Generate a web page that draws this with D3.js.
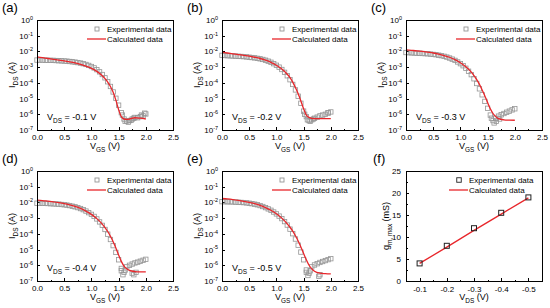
<!DOCTYPE html>
<html>
<head>
<meta charset="utf-8">
<script src="https://cdn.jsdelivr.net/npm/d3@7"></script>
<style>
body { margin: 0; background: #fff; }
svg { font-family: "Liberation Sans", Arial, sans-serif; }
</style>
</head>
<body>
<svg id="chart" width="550" height="308"></svg>
<script>
// gate voltage grid of the measured points (V)
const vgsExp = [
  0.00,0.05,0.10,0.15,0.20,0.25,0.30,0.35,0.40,0.45,
  0.50,0.55,0.60,0.65,0.70,0.75,0.80,0.85,0.90,0.95,
  1.00,1.05,1.10,1.15,1.20,1.25,1.30,1.35,1.40,1.45,
  1.50,1.55,1.60,1.65,1.70,1.75,1.80,1.85,1.90,1.95,2.00];
// gate voltage of the calculated curve (V)
const vgsCalc = [0.0,0.1,0.2,0.3,0.4,0.5,0.6,0.7,0.8,0.9,1.0,1.1,1.2,1.25,1.3,1.35,1.4,1.45,1.5,1.55,1.6,1.65,1.7,1.8,1.9,2.0];

// log10(I_DS / A), experimental
const expA = [
  -2.55,-2.55,-2.55,-2.56,-2.56,-2.57,-2.57,-2.58,-2.59,-2.60,
  -2.61,-2.62,-2.64,-2.66,-2.68,-2.71,-2.74,-2.78,-2.83,-2.89,
  -2.96,-3.05,-3.16,-3.30,-3.47,-3.68,-3.93,-4.23,-4.58,-4.98,
  -5.42,-5.90,-6.30,-6.42,-6.40,-6.30,-6.20,-6.22,-6.15,-6.10,-5.98];
const expB = [
  -2.25,-2.26,-2.27,-2.28,-2.29,-2.30,-2.31,-2.32,-2.33,-2.35,
  -2.37,-2.39,-2.41,-2.44,-2.47,-2.51,-2.56,-2.62,-2.69,-2.78,
  -2.88,-3.00,-3.15,-3.33,-3.55,-3.80,-4.10,-4.45,-4.85,-5.30,
  -5.80,-6.15,-6.40,-6.35,-6.25,-6.18,-6.10,-6.05,-6.00,-5.92,-5.85];
const expC = [
  -2.07,-2.08,-2.09,-2.10,-2.11,-2.12,-2.13,-2.14,-2.15,-2.17,
  -2.19,-2.21,-2.24,-2.27,-2.31,-2.36,-2.42,-2.49,-2.57,-2.67,
  -2.78,-2.91,-3.07,-3.26,-3.48,-3.74,-4.04,-4.38,-4.76,-5.18,
  -5.62,-6.05,-6.40,-6.25,-6.12,-6.03,-5.95,-5.87,-5.80,-5.72,-5.65];
const expD = [
  -2.05,-2.05,-2.06,-2.06,-2.07,-2.08,-2.09,-2.10,-2.11,-2.13,
  -2.15,-2.17,-2.20,-2.24,-2.28,-2.33,-2.39,-2.46,-2.55,-2.65,
  -2.76,-2.89,-3.05,-3.24,-3.46,-3.72,-4.02,-4.36,-4.75,-5.18,
  -5.65,-6.20,-6.45,-6.10,-6.00,-5.92,-5.85,-5.80,-5.74,-5.68,-5.62];
const expE = [
  -1.95,-1.95,-1.96,-1.96,-1.97,-1.98,-1.99,-2.00,-2.01,-2.03,
  -2.05,-2.08,-2.11,-2.15,-2.20,-2.26,-2.33,-2.41,-2.50,-2.61,
  -2.73,-2.87,-3.03,-3.22,-3.44,-3.70,-3.99,-4.33,-4.72,-5.16,
  -5.65,-6.30,-6.50,-6.10,-5.98,-5.90,-5.82,-5.76,-5.70,-5.64,-5.58];

// scattered measured points around the off-state dip
const dipVA = [1.57,1.62,1.68,1.73,1.78,1.92,1.98], dipA = [-6.05,-6.45,-6.50,-6.38,-6.25,-6.05,-5.93];
const dipVB = [1.52,1.57,1.62,1.68,1.95], dipB = [-6.00,-6.35,-6.45,-6.30,-5.90];
const dipVC = [1.57,1.62,1.66,1.72], dipC = [-6.25,-6.55,-6.45,-6.30];
const dipVD = [1.55,1.58,1.62,1.75,1.78,1.82], dipD = [-6.35,-6.60,-6.30,-6.50,-6.60,-6.45];
const dipVE = [1.55,1.58,1.62,1.78,1.80], dipE = [-6.45,-6.65,-6.35,-6.70,-6.60];

// log10(I_DS / A), calculated
const calcA = [-2.35,-2.40,-2.45,-2.50,-2.55,-2.60,-2.66,-2.73,-2.82,-2.94,-3.08,-3.27,-3.55,-3.73,-3.95,-4.23,-4.60,-5.10,-5.70,-6.15,-6.30,-6.32,-6.30,-6.22,-6.25,-6.30];
const calcB = [-2.05,-2.10,-2.15,-2.20,-2.25,-2.30,-2.37,-2.45,-2.56,-2.70,-2.88,-3.12,-3.45,-3.67,-3.95,-4.30,-4.70,-5.15,-5.65,-6.05,-6.20,-6.26,-6.28,-6.28,-6.28,-6.28];
const calcC = [-1.90,-1.93,-1.96,-2.00,-2.05,-2.10,-2.17,-2.26,-2.37,-2.52,-2.72,-2.98,-3.32,-3.54,-3.80,-4.10,-4.45,-4.83,-5.25,-5.65,-5.95,-6.15,-6.28,-6.35,-6.37,-6.38];
const calcD = [-1.85,-1.88,-1.92,-1.96,-2.01,-2.07,-2.15,-2.25,-2.38,-2.55,-2.76,-3.03,-3.38,-3.60,-3.85,-4.15,-4.50,-4.90,-5.35,-5.75,-6.05,-6.22,-6.33,-6.40,-6.42,-6.42];
const calcE = [-1.75,-1.78,-1.82,-1.87,-1.93,-2.00,-2.08,-2.19,-2.33,-2.50,-2.72,-3.00,-3.36,-3.58,-3.83,-4.12,-4.45,-4.83,-5.25,-5.65,-6.00,-6.22,-6.38,-6.50,-6.53,-6.55];

const vdsLabels = ["-0.1", "-0.2", "-0.3", "-0.4", "-0.5"];

// panel (f)
const vdsVals = [-0.1, -0.2, -0.3, -0.4, -0.5];
const gmExp = [4.0, 8.0, 12.0, 15.5, 19.0];
const gmCalc = [4.0, 7.7, 11.5, 15.2, 18.9];

const xTicks = [0, 0.5, 1.0, 1.5, 2.0, 2.5];
const xMinor = [0.25, 0.75, 1.25, 1.75, 2.25];
const yDecades = [-7, -6, -5, -4, -3, -2, -1, 0];

const RED = "#e8262b";
const GREY = "#959595";

let svg = d3.select("#chart");
svg.append("rect").attr("width", 550).attr("height", 308).attr("fill", "#fff");

let pw = 136, ph = 110;
let cols = [37, 222, 406];
let rows = [20, 171];

// writes [text, kind] pieces, kind "sub" or "sup" or ""
function richText(sel, parts, size) {
    let shift = 0;
    parts.forEach(function(p) {
        let t = sel.append("tspan").text(p[0]);
        let want = 0;
        if (p[1] == "sub") {
            t.attr("font-size", size * 0.72);
            want = size * 0.28;
        } else if (p[1] == "sup") {
            t.attr("font-size", size * 0.68);
            want = -size * 0.4;
        } else {
            t.attr("font-size", size);
        }
        if (want != shift) t.attr("dy", want - shift);
        shift = want;
    });
}

function frame(g) {
    g.append("rect").attr("width", pw).attr("height", ph)
        .attr("fill", "none").attr("stroke", "#000").attr("stroke-width", 1)
        .attr("shape-rendering", "crispEdges");
}

function styleAxis(a) {
    a.select(".domain").remove();
    a.selectAll("line").attr("stroke", "#000").attr("shape-rendering", "crispEdges");
    a.selectAll("text").attr("font-size", 8).attr("fill", "#000")
        .attr("font-family", "Liberation Sans, Arial, sans-serif");
}

function legend(g, rx, markStroke, markSize) {
    let lg = g.append("g").attr("transform", "translate(" + (pw - rx) + ",0)");
    lg.append("rect").attr("x", -10 - markSize / 2).attr("y", 9 - markSize / 2)
        .attr("width", markSize).attr("height", markSize)
        .attr("fill", "none").attr("stroke", markStroke).attr("stroke-width", 0.9);
    lg.append("line").attr("x1", -20).attr("x2", -1).attr("y1", 19).attr("y2", 19)
        .attr("stroke", RED).attr("stroke-width", 1.3);
    lg.append("text").attr("x", 0).attr("y", 12).attr("font-size", 8).text("Experimental data");
    lg.append("text").attr("x", 0).attr("y", 22).attr("font-size", 8).text("Calculated data");
}

function panelLabel(x, y, s) {
    svg.append("text").attr("x", x).attr("y", y).attr("font-size", 13).text(s);
}

function drawTransfer(col, row, exp, dipV, dip, calc, vds, label) {
    let x0 = cols[col], y0 = rows[row];
    let g = svg.append("g").attr("transform", "translate(" + x0 + "," + y0 + ")");

    let x = d3.scaleLinear().domain([0, 2.5]).range([0, pw]);
    let y = d3.scaleLog().domain([1e-7, 1]).range([ph, 0]);

    let ax = g.append("g").attr("transform", "translate(0," + ph + ")")
        .call(d3.axisBottom(x).tickValues(xTicks).tickSizeInner(-3).tickSizeOuter(0).tickPadding(4)
            .tickFormat(function(d) { return d.toFixed(1); }));
    styleAxis(ax);
    let axm = g.append("g").attr("transform", "translate(0," + ph + ")")
        .call(d3.axisBottom(x).tickValues(xMinor).tickSizeInner(-1.5).tickSizeOuter(0).tickFormat(""));
    styleAxis(axm);
    axm.selectAll("text").remove();

    let ay = g.append("g")
        .call(d3.axisLeft(y).tickValues(yDecades.map(function(e) { return Math.pow(10, e); }))
            .tickSizeInner(-3).tickSizeOuter(0).tickPadding(4).tickFormat(""));
    styleAxis(ay);
    ay.selectAll(".tick text").remove();
    ay.selectAll(".tick").append("text")
        .attr("x", -4).attr("dy", "0.32em").attr("text-anchor", "end")
        .attr("font-size", 8).attr("fill", "#000")
        .each(function(d) {
            let e = Math.round(Math.log10(d));
            richText(d3.select(this), [["10", ""], [String(e), "sup"]], 8);
        });

    // measured points
    let pts = vgsExp.map(function(v, i) { return [v, exp[i]]; })
        .concat(dipV.map(function(v, i) { return [v, dip[i]]; }));
    g.append("g").selectAll("rect").data(pts).enter().append("rect")
        .attr("x", function(d) { return x(d[0]) - 2.2; })
        .attr("y", function(d) { return y(Math.pow(10, d[1])) - 2.2; })
        .attr("width", 4.4).attr("height", 4.4)
        .attr("fill", "none").attr("stroke", GREY).attr("stroke-width", 0.8);

    let line = d3.line()
        .x(function(d, i) { return x(vgsCalc[i]); })
        .y(function(d) { return y(Math.pow(10, d)); })
        .curve(d3.curveMonotoneX);
    g.append("path").datum(calc).attr("d", line)
        .attr("fill", "none").attr("stroke", RED).attr("stroke-width", 1.3);

    frame(g);
    legend(g, 66, GREY, 4);

    let ann = g.append("text").attr("x", 10).attr("y", ph - 10);
    richText(ann, [["V", ""], ["DS", "sub"], [" = " + vds + " V", ""]], 9);

    let yt = g.append("text").attr("transform", "translate(-22," + ph / 2 + ") rotate(-90)")
        .attr("text-anchor", "middle");
    richText(yt, [["I", ""], ["DS", "sub"], [" (A)", ""]], 9);

    let xt = g.append("text").attr("x", pw / 2).attr("y", ph + 19)
        .attr("text-anchor", "middle");
    richText(xt, [["V", ""], ["GS", "sub"], [" (V)", ""]], 9);

    panelLabel(x0 - 35, y0 - 8, label);
}

function drawGm() {
    let x0 = cols[2], y0 = rows[1];
    let g = svg.append("g").attr("transform", "translate(" + x0 + "," + y0 + ")");
    let x = d3.scaleLinear().domain([-0.05, -0.55]).range([0, pw]);
    let y = d3.scaleLinear().domain([0, 25]).range([ph, 0]);

    let ax = g.append("g").attr("transform", "translate(0," + ph + ")")
        .call(d3.axisBottom(x).tickValues(vdsVals).tickSizeInner(-3).tickSizeOuter(0).tickPadding(5)
            .tickFormat(function(d) { return d.toFixed(1); }));
    styleAxis(ax);
    let axm = g.append("g").attr("transform", "translate(0," + ph + ")")
        .call(d3.axisBottom(x).tickValues([-0.15, -0.25, -0.35, -0.45]).tickSizeInner(-1.5).tickSizeOuter(0).tickFormat(""));
    styleAxis(axm);
    axm.selectAll("text").remove();
    let ay = g.append("g")
        .call(d3.axisLeft(y).tickValues([0, 5, 10, 15, 20, 25]).tickSizeInner(-3).tickSizeOuter(0).tickPadding(5));
    styleAxis(ay);
    let aym = g.append("g")
        .call(d3.axisLeft(y).tickValues([2.5, 7.5, 12.5, 17.5, 22.5]).tickSizeInner(-1.5).tickSizeOuter(0).tickFormat(""));
    styleAxis(aym);
    aym.selectAll("text").remove();

    let line = d3.line()
        .x(function(d, i) { return x(vdsVals[i]); })
        .y(function(d) { return y(d); });
    g.append("path").datum(gmCalc).attr("d", line)
        .attr("fill", "none").attr("stroke", RED).attr("stroke-width", 1.3);

    g.append("g").selectAll("rect").data(gmExp).enter().append("rect")
        .attr("x", function(d, i) { return x(vdsVals[i]) - 2.5; })
        .attr("y", function(d) { return y(d) - 2.5; })
        .attr("width", 5).attr("height", 5)
        .attr("fill", "none").attr("stroke", "#222").attr("stroke-width", 1);

    frame(g);
    legend(g, 73, "#222", 4.5);

    let yt = g.append("text").attr("transform", "translate(-17," + ph / 2 + ") rotate(-90)")
        .attr("text-anchor", "middle");
    richText(yt, [["g", ""], ["m, max", "sub"], [" (mS)", ""]], 9);

    let xt = g.append("text").attr("x", pw / 2).attr("y", ph + 19)
        .attr("text-anchor", "middle");
    richText(xt, [["V", ""], ["DS", "sub"], [" (V)", ""]], 9);

    panelLabel(x0 - 33, y0 - 8, "(f)");
}

drawTransfer(0, 0, expA, dipVA, dipA, calcA, vdsLabels[0], "(a)");
drawTransfer(1, 0, expB, dipVB, dipB, calcB, vdsLabels[1], "(b)");
drawTransfer(2, 0, expC, dipVC, dipC, calcC, vdsLabels[2], "(c)");
drawTransfer(0, 1, expD, dipVD, dipD, calcD, vdsLabels[3], "(d)");
drawTransfer(1, 1, expE, dipVE, dipE, calcE, vdsLabels[4], "(e)");
drawGm();
</script>
</body>
</html>
